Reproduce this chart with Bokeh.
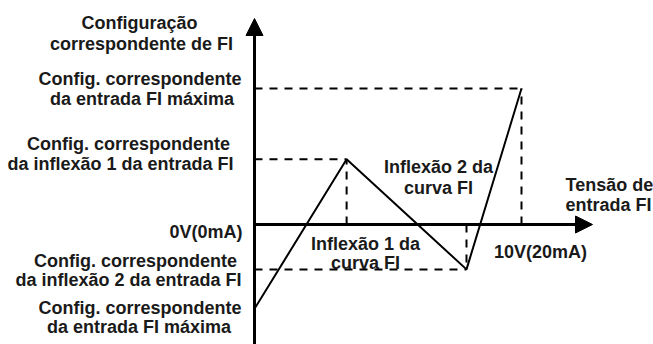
from bokeh.plotting import figure
from bokeh.models import Range1d, Arrow, NormalHead, ColumnDataSource
from bokeh.core.properties import value
from bokeh.embed import file_html
from bokeh.resources import INLINE

# ---- data ----
points = ["start", "inflexao1", "inflexao2", "maxima"]
volt = [0.0, 3.45, 7.94, 10.0]          # FI input voltage (V), 10 V = 20 mA
config = [-62.0, 48.0, -33.0, 100.0]     # corresponding setting (relative units)

y_labels = [
    ["Configuração", "correspondente de FI"],
    ["Config. correspondente", "da entrada FI máxima"],
    ["Config. correspondente", "da inflexão 1 da entrada FI"],
    ["0V(0mA)"],
    ["Config. correspondente", "da inflexão 2 da entrada FI"],
    ["Config. correspondente", "da entrada FI máxima"],
]
inner_labels = [["Inflexão 2 da", "curva FI"], ["Inflexão 1 da", "curva FI"]]
x_title = ["Tensão de", "entrada FI"]
x_max_label = "10V(20mA)"

# ---- picture-pixel <-> data helpers (layout only) ----
W, H = 653, 344
OX, OY = 254.0, 224.0     # picture px of origin
SX, SY = 26.7, 1.36       # px per unit


def dx(px):
    return (px - OX) / SX


def dy(py):
    return (OY - py) / SY


p = figure(width=W, height=H, output_backend="svg", toolbar_location=None,
           x_range=Range1d(dx(0), dx(W)), y_range=Range1d(dy(H), dy(0)),
           x_axis_type=None, y_axis_type=None, min_border=0,
           outline_line_color=None)
p.xgrid.visible = False
p.ygrid.visible = False
p.background_fill_color = "white"

# dashed guide lines
for xv, yv in zip(volt[1:], config[1:]):
    p.line([0, xv], [yv, yv], line_color="black", line_width=2, line_dash="8 7")
    p.line([xv, xv], [0, yv], line_color="black", line_width=2, line_dash="8 7")

# curve
p.line(volt, config, line_color="black", line_width=2)

# axes with arrows
p.add_layout(Arrow(x_start=0, y_start=dy(350), x_end=0, y_end=dy(18),
                   line_width=3, line_color="black",
                   end=NormalHead(size=17, fill_color="black", line_color="black", line_width=1)))
p.add_layout(Arrow(x_start=0, y_start=0, x_end=dx(592), y_end=0,
                   line_width=3, line_color="black",
                   end=NormalHead(size=17, fill_color="black", line_color="black", line_width=1)))

FONT = value("Liberation Sans")


def put(lines, xs, ys, align="center"):
    src = ColumnDataSource(dict(x=[dx(v) for v in xs], y=[dy(v) for v in ys], t=lines))
    p.text("x", "y", text="t", source=src, text_font=FONT, text_font_style="bold",
           text_font_size="18px", text_align=align, text_baseline="middle",
           text_color="#1a1a1a")


put(y_labels[0], [139, 141], [22, 43])
put(y_labels[1], [139.5, 141.5], [78, 98])
put(y_labels[2], [128, 120], [143, 163])
put(y_labels[3], [242], [231], align="right")
put(y_labels[4], [135, 128], [260, 279])
put(y_labels[5], [139.5, 138.5], [307, 326])
put(inner_labels[0], [438, 438], [166, 187])
put(inner_labels[1], [365, 365], [243, 262])
put(x_title, [565, 565], [184, 204], align="left")
put([x_max_label], [540], [251])

open("out.html", "w").write(file_html(p, INLINE))
